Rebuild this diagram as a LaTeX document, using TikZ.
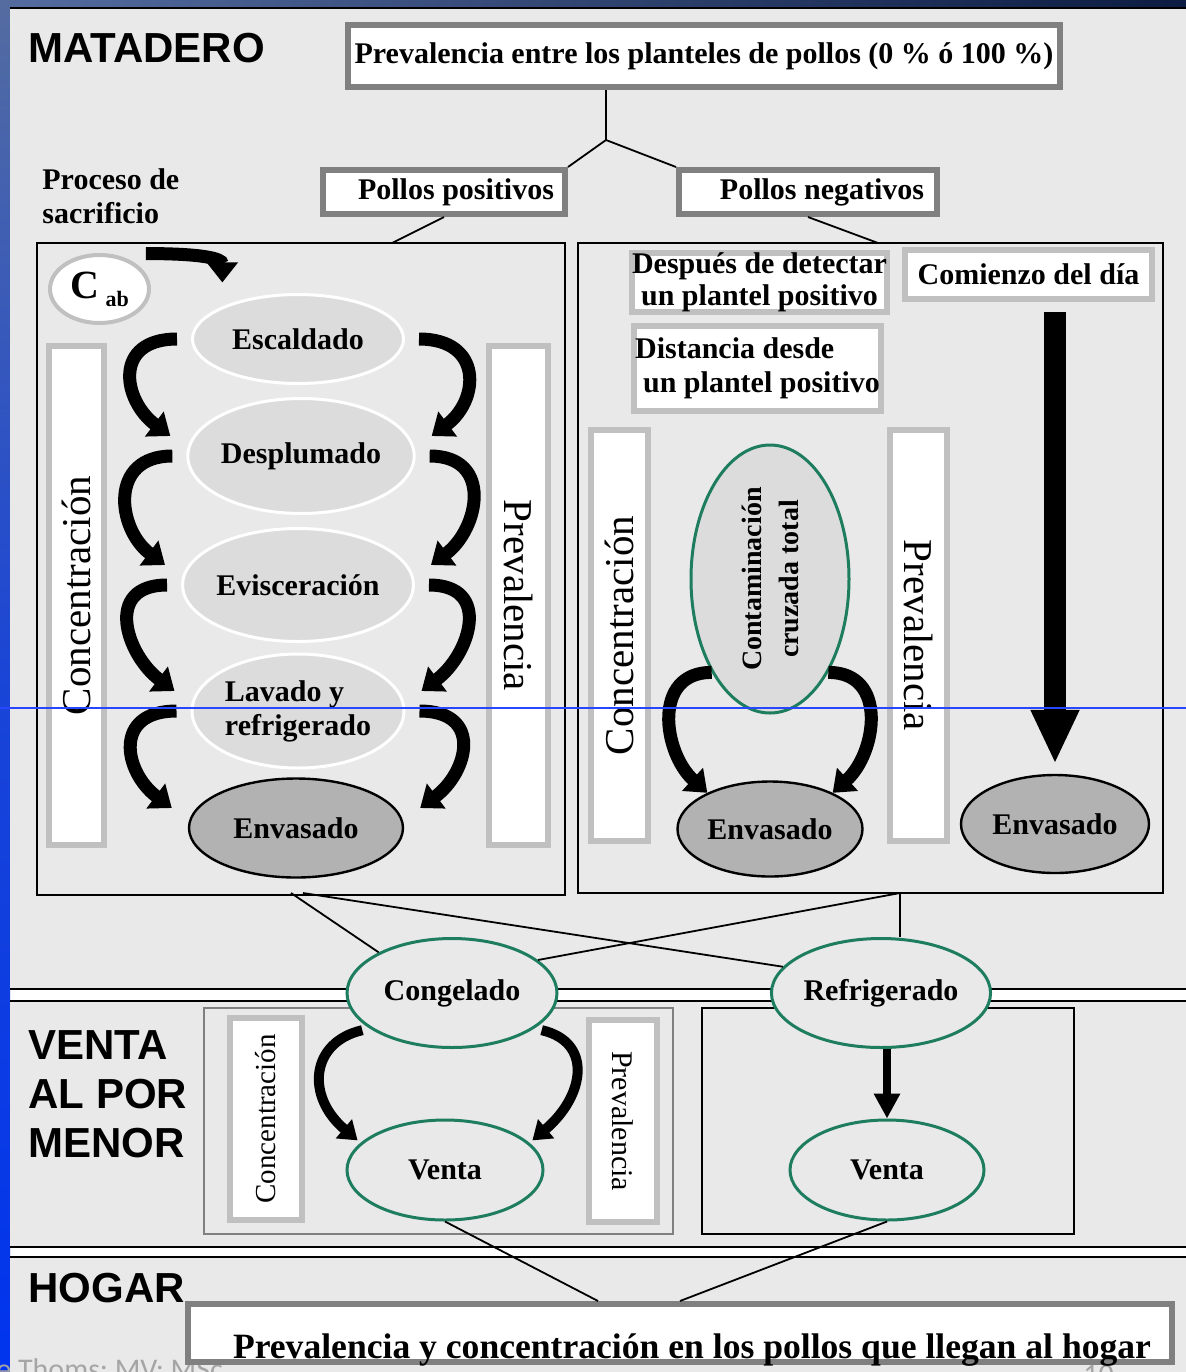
\documentclass[tikz,border=0pt]{standalone}
\usepackage{fontspec}
\setmainfont{Liberation Serif}
\setsansfont{Liberation Sans}
\newfontfamily\footfont{Carlito}
\usepackage{xcolor}
\usetikzlibrary{shapes.geometric, arrows.meta, positioning, calc}
\definecolor{panelgray}{RGB}{233,233,233}
\definecolor{stagegray}{RGB}{220,220,220}
\definecolor{packgray}{RGB}{178,178,178}
\definecolor{bargray}{RGB}{192,192,192}
\definecolor{framegray}{RGB}{128,128,128}
\definecolor{tealline}{RGB}{30,125,95}
\definecolor{footgray}{RGB}{165,165,165}
\definecolor{slidenavy}{RGB}{12,28,66}
\definecolor{slidesteel}{RGB}{84,108,160}
\definecolor{slideblue}{RGB}{0,52,238}
\definecolor{scanblue}{RGB}{40,70,255}

\begin{document}
\begin{tikzpicture}[
    x=0.5pt, y=-0.5pt,
    lbl/.style={font=\bfseries\fontsize{15}{17}\selectfont},
    sectitle/.style={anchor=north west, inner sep=0pt, align=left, font=\sffamily\bfseries\fontsize{21}{24.5}\selectfont},
    framebox/.style={rectangle, draw=framegray, line width=3pt, fill=white, inner sep=0pt, lbl},
    notebox/.style={rectangle, draw=bargray, line width=3pt, fill=white, inner sep=0pt, lbl},
    bar/.style={rectangle, draw=bargray, line width=3pt, fill=white, inner sep=0pt, font=\fontsize{20.5}{22}\selectfont},
    smallbar/.style={bar, font=\fontsize{14.5}{16}\selectfont},
    stage/.style={ellipse, draw=white, line width=1.5pt, fill=stagegray, inner sep=0pt, lbl},
    pack/.style={ellipse, draw=black, line width=1.2pt, fill=packgray, inner sep=0pt, lbl},
    store/.style={ellipse, draw=tealline, line width=1.5pt, fill=panelgray, inner sep=0pt, lbl},
    area/.style={rectangle, draw=black, line width=0.7pt, fill=panelgray, inner sep=0pt},
    link/.style={line width=0.9pt},
    curv/.style={line width=6.5pt, -{Triangle[width=15pt,length=10pt]}},
    smallcurv/.style={line width=5pt, -{Triangle[width=12pt,length=9pt]}},
    bigarrow/.style={line width=11pt, -{Triangle[width=22.5pt,length=27pt]}},
    midarrow/.style={line width=4pt, -{Triangle[width=12.5pt,length=12.5pt]}}
]
\useasboundingbox (0,0) rectangle (1186,1372);

% Slide background
\fill[white] (0,0) rectangle (1186,1372);
\shade[top color=slidesteel, bottom color=slideblue, middle color=slideblue!70!slidesteel] (0,0) rectangle (10,1372);
\shade[left color=slidesteel, right color=slidenavy] (0,0) rectangle (1186,7);
\fill[panelgray] (10,8) rectangle (1186,989);
\fill[panelgray] (10,1001) rectangle (1186,1247);
\fill[panelgray] (10,1257) rectangle (1186,1372);
\draw[line width=1pt] (10,7.5) -- (1186,7.5);
\draw[line width=1pt] (10,989) -- (1186,989) (10,1001) -- (1186,1001)
    (10,1247) -- (1186,1247) (10,1257) -- (1186,1257);

% Section titles
\node[sectitle] (matadero) at (28,33) {MATADERO};
\node[sectitle] (venta) at (28,1030) {VENTA\\AL POR\\MENOR};
\node[sectitle] (hogar) at (28,1273) {HOGAR};

% Flock prevalence
\node[framebox, minimum width=356pt, minimum height=31pt] (prevtop) at (704,56) {\raisebox{-2pt}{Prevalencia entre los planteles de pollos (0 \% ó 100 \%)}};
\coordinate (fork) at (606,140);
\draw[link] (fork |- prevtop.south) -- (fork);
\node[framebox, minimum width=121pt, minimum height=22pt] (pos) at (444,192) {\hspace*{12pt}Pollos positivos};
\node[framebox, minimum width=129pt, minimum height=22pt] (neg) at (808,192) {\hspace*{14pt}Pollos negativos};
\draw[link] (fork) -- (pos.north east);
\draw[link] (fork) -- (neg.north west);
\node[anchor=north west, inner sep=0pt, align=left, lbl] (proceso) at (42,168) {Proceso de\\sacrificio};

% Slaughter boxes
\node[area, minimum width=264pt, minimum height=326pt] (lbox) at (301,569) {};
\node[area, minimum width=292.5pt, minimum height=325pt] (rbox) at (870.5,568) {};
\coordinate (ltop) at (392,243);
\coordinate (rtop) at (878,243);
\draw[link] (pos.south) -- (ltop);
\draw[link] (neg.south) -- (rtop);

% Positive flocks
\node[ellipse, draw=bargray, line width=2pt, fill=white, minimum width=49.5pt, minimum height=34pt, inner sep=0pt, font=\bfseries\fontsize{20}{22}\selectfont] (cab) at (99.5,289) {C\,\raisebox{-4pt}{\fontsize{11}{12}\selectfont ab}};
\node[bar, rotate=90, minimum width=249.5pt, minimum height=27.5pt] (concl) at (76.5,595.5) {\raisebox{-3pt}{Concentración}};
\node[bar, rotate=-90, minimum width=249.5pt, minimum height=29.5pt] (prevl) at (518.5,595.5) {\raisebox{-3pt}{Prevalencia}};
\node[stage, minimum width=105.5pt, minimum height=44.5pt] (esc) at (298,339) {Escaldado};
\node[stage, minimum width=105pt, minimum height=57.5pt] (des) at (301,456) {Desplumado};
\node[stage, minimum width=106pt, minimum height=56.5pt] (evi) at (298,585) {Evisceración};
\node[stage, minimum width=106pt, minimum height=57pt, align=left] (lav) at (298,711) {Lavado y\\refrigerado};
\node[pack, minimum width=107pt, minimum height=49.5pt] (envl) at (296,828) {Envasado};

\draw[curv] ([xshift=5pt,yshift=5pt]cab.north east) .. controls +(28pt,0pt) and +(0pt,12pt) .. ([yshift=12pt]esc.north west);
\foreach \a/\b in {esc/des, des/evi, evi/lav, lav/envl} {
    \draw[curv] ([xshift=-7pt]\a.west) .. controls +(-32pt,0pt) and +(-24pt,18pt) .. ([xshift=-8pt,yshift=10pt]\b.west);
    \draw[curv] ([xshift=7pt]\a.east) .. controls +(32pt,0pt) and +(24pt,18pt) .. ([xshift=8pt,yshift=10pt]\b.east);
}

% Negative flocks
\node[notebox, minimum width=121.5pt, minimum height=29.5pt, align=center, font=\bfseries\fontsize{15}{16}\selectfont] (after) at (759.5,282.5) {Después de detectar\\un plantel positivo};
\node[notebox, minimum width=123.5pt, minimum height=24.5pt] (daystart) at (1028.5,274.5) {Comienzo del día};
\node[notebox, minimum width=123.5pt, minimum height=42.5pt, align=left] (dist) at (757.5,368.5) {Distancia desde\\\hspace{4pt}un plantel positivo};
\node[bar, rotate=90, minimum width=205.5pt, minimum height=28.5pt] (concr) at (619.5,635.5) {Concentración};
\node[bar, rotate=-90, minimum width=205.5pt, minimum height=28.5pt] (prevr) at (918.5,635.5) {Prevalencia};
\node[store, fill=stagegray, minimum width=79pt, minimum height=134pt] (cont) at (770,579) {};
\node[rotate=90, align=center, font=\bfseries\fontsize{14}{18.5}\selectfont] (conttxt) at (cont.center) {Contaminación\\cruzada total};
\node[pack, minimum width=92.5pt, minimum height=47.5pt] (envm) at (770,829) {\raisebox{-3pt}{Envasado}};
\node[pack, minimum width=94pt, minimum height=49pt] (envr) at (1055,824) {Envasado};
\draw[curv] (cont.238) .. controls +(-30pt,0pt) and +(-22pt,20pt) .. (envm.150);
\draw[curv] (cont.302) .. controls +(30pt,0pt) and +(22pt,20pt) .. (envm.30);
\coordinate (daytop) at (1055,312);
\draw[bigarrow] (daytop) -- ([yshift=5pt]envr.north);

% Retail
\node[area, draw=gray, minimum width=234.5pt, minimum height=113pt] (rtl) at (438.5,1121) {};
\node[area, minimum width=186pt, minimum height=113pt] (rtr) at (888,1121) {};
\node[smallbar, rotate=90, minimum width=101pt, minimum height=36pt] (concs) at (266,1119) {Concentración};
\node[smallbar, rotate=-90, minimum width=101pt, minimum height=34pt, font=\fontsize{15}{16}\selectfont] (prevs) at (623,1121) {Prevalencia};
\node[store, minimum width=105pt, minimum height=54.5pt] (cong) at (452,993) {\raisebox{-4pt}{Congelado}};
\node[store, minimum width=106.5pt, minimum height=54.5pt] (refr) at (881,993) {\raisebox{-4pt}{Refrigerado}};
\node[store, minimum width=98pt, minimum height=50pt] (ventacong) at (445,1170) {\raisebox{-4pt}{Venta}};
\node[store, minimum width=97pt, minimum height=50pt] (ventarefr) at (887,1170) {\raisebox{-4pt}{Venta}};

\coordinate (lout1) at (291,893);
\coordinate (lout2) at (303,893);
\coordinate (rjunc) at (900,893);
\draw[link] (lout1) -- (cong.151);
\draw[link] (lout2) -- (refr.165);
\draw[link] (rjunc) -- (cong.21);
\draw[link] (rjunc) -- (rjunc |- refr.north);

\draw[smallcurv] ([xshift=-5pt]cong.205) .. controls +(-26pt,-6pt) and +(-26pt,22pt) .. ([xshift=-3pt]ventacong.160);
\draw[smallcurv] ([xshift=5pt]cong.335) .. controls +(26pt,-6pt) and +(26pt,22pt) .. ([xshift=3pt]ventacong.20);
\draw[midarrow] (ventarefr.north |- refr.south) -- (ventarefr.north);

% Footer
\node[anchor=north west, inner sep=0pt, text=footgray, font=\footfont\fontsize{15}{18}\selectfont] (credit) at (-4,1358) {e Thoms; MV; MSc};
\node[anchor=north west, inner sep=0pt, text=footgray, font=\footfont\fontsize{15}{18}\selectfont] (slideno) at (1083,1365) {10};

% Home
\node[framebox, minimum width=492pt, minimum height=29pt] (home) at (680,1333) {};
\node[anchor=base, inner sep=0pt, font=\bfseries\fontsize{17.8}{20}\selectfont] (hometxt) at (692,1358) {Prevalencia y concentración en los pollos que llegan al hogar};
\draw[link] (ventacong.south) -- ([xshift=-41pt]home.north);
\draw[link] (ventarefr.south) -- (home.north);

\draw[scanblue, line width=0.6pt] (0,708) -- (1186,708);
\end{tikzpicture}
\end{document}
